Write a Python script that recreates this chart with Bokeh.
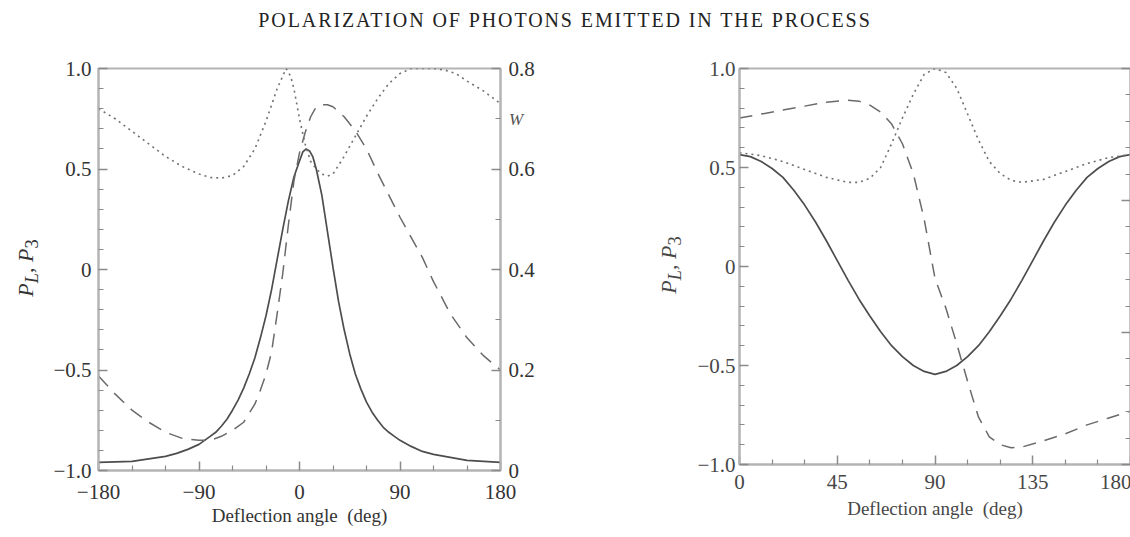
from bokeh.embed import file_html
from bokeh.layouts import column, row
from bokeh.models import Div, FixedTicker, LinearAxis, Range1d
from bokeh.plotting import figure
from bokeh.resources import INLINE

TITLE = "POLARIZATION OF PHOTONS EMITTED IN THE PROCESS"
X_LABEL = "Deflection angle\u00a0 (deg)"
Y_LABEL_HTML = "<i>P</i><sub><i>L</i></sub>, <i>P</i><sub>3</sub>"
W_LABEL_HTML = "<i>W</i>"

# ---- left panel: deflection angle -180 .. 180 ----
left_solid_angle = [-180, -150, -120, -110, -100, -90, -80, -75, -70, -65, -60, -55, -50, -45,
                    -40, -35, -30, -25, -20, -15, -10, -5, 0, 3, 6, 9, 12, 15, 20, 25, 30, 35,
                    40, 45, 50, 55, 60, 65, 70, 75, 80, 85, 90, 100, 110, 120, 150, 180]
left_solid = [-0.96, -0.955, -0.93, -0.915, -0.895, -0.87, -0.83, -0.81, -0.78, -0.745, -0.70,
              -0.65, -0.59, -0.52, -0.44, -0.34, -0.23, -0.10, 0.05, 0.20, 0.34, 0.46, 0.54,
              0.585, 0.60, 0.59, 0.56, 0.50, 0.37, 0.19, 0.01, -0.16, -0.30, -0.42, -0.52,
              -0.595, -0.66, -0.71, -0.75, -0.785, -0.81, -0.83, -0.85, -0.88, -0.905, -0.92,
              -0.95, -0.96]

left_dashed_angle = [-180, -165, -150, -135, -120, -105, -90, -80, -70, -60, -50, -40, -35, -30,
                     -25, -20, -15, -10, -5, 0, 5, 10, 15, 20, 25, 30, 40, 50, 60, 70, 80, 90,
                     100, 110, 120, 135, 150, 165, 180]
left_dashed = [-0.53, -0.62, -0.70, -0.76, -0.81, -0.84, -0.85, -0.85, -0.83, -0.80, -0.76,
               -0.67, -0.60, -0.52, -0.41, -0.22, -0.02, 0.22, 0.44, 0.58, 0.68, 0.76, 0.81,
               0.82, 0.82, 0.81, 0.76, 0.69, 0.60, 0.48, 0.37, 0.26, 0.16, 0.06, -0.06, -0.22,
               -0.34, -0.43, -0.50]

left_w_angle = [-180, -165, -150, -135, -120, -105, -90, -80, -70, -60, -50, -40, -30, -20,
                -15, -12, -8, -5, 0, 5, 10, 15, 20, 25, 30, 40, 50, 60, 70, 80, 90, 100, 110,
                120, 130, 140, 150, 165, 180]
left_w = [0.72, 0.70, 0.675, 0.65, 0.625, 0.605, 0.59, 0.583, 0.582, 0.587, 0.605, 0.64, 0.695,
          0.76, 0.785, 0.80, 0.785, 0.76, 0.70, 0.65, 0.615, 0.60, 0.59, 0.586, 0.59, 0.625,
          0.665, 0.705, 0.74, 0.77, 0.79, 0.80, 0.80, 0.80, 0.797, 0.79, 0.775, 0.755, 0.73]

# ---- right panel: deflection angle 0 .. 180 ----
right_solid_angle = [0, 5, 10, 15, 20, 25, 30, 35, 40, 45, 50, 55, 60, 65, 70, 75, 80, 85, 90,
                     95, 100, 105, 110, 115, 120, 125, 130, 135, 140, 145, 150, 155, 160, 165,
                     170, 175, 180]
right_solid = [0.565, 0.555, 0.53, 0.495, 0.45, 0.385, 0.31, 0.225, 0.13, 0.03, -0.07, -0.165,
               -0.25, -0.33, -0.40, -0.455, -0.50, -0.53, -0.545, -0.53, -0.50, -0.455, -0.40,
               -0.33, -0.25, -0.165, -0.07, 0.03, 0.13, 0.225, 0.31, 0.385, 0.45, 0.495, 0.53,
               0.555, 0.565]

right_dashed_angle = [0, 10, 20, 30, 40, 50, 55, 60, 65, 70, 75, 80, 85, 90, 95, 100, 105, 110,
                      115, 120, 125, 130, 140, 150, 160, 170, 180]
right_dashed = [0.75, 0.77, 0.79, 0.81, 0.83, 0.84, 0.835, 0.815, 0.78, 0.72, 0.62, 0.47, 0.24,
                -0.06, -0.21, -0.39, -0.58, -0.76, -0.86, -0.90, -0.915, -0.912, -0.88, -0.845,
                -0.80, -0.765, -0.73]

right_dotted_angle = [0, 10, 20, 30, 40, 50, 55, 60, 65, 70, 75, 80, 85, 90, 95, 100, 105, 110,
                      115, 120, 125, 130, 140, 150, 160, 170, 180]
right_dotted = [0.575, 0.56, 0.53, 0.49, 0.45, 0.425, 0.425, 0.445, 0.50, 0.62, 0.75, 0.87, 0.97,
                1.0, 0.98, 0.90, 0.77, 0.64, 0.53, 0.47, 0.435, 0.425, 0.44, 0.48, 0.52, 0.55,
                0.565]

# ---- axis ticks ----
left_x_ticks = [-180, -90, 0, 90, 180]
left_x_labels = ["\u2212180", "\u221290", "0", "90", "180"]
left_x_minor = [-150, -120, -60, -30, 30, 60, 120, 150]

right_x_ticks = [0, 45, 90, 135, 180]
right_x_labels = ["0", "45", "90", "135", "180"]
right_x_minor = [15, 30, 60, 75, 105, 120, 150, 165]

p_ticks = [-1.0, -0.5, 0.0, 0.5, 1.0]
p_labels = ["\u22121.0", "\u22120.5", "0", "0.5", "1.0"]
p_minor = [-0.9, -0.8, -0.7, -0.6, -0.4, -0.3, -0.2, -0.1, 0.1, 0.2, 0.3, 0.4, 0.6, 0.7, 0.8, 0.9]

w_ticks = [0.0, 0.2, 0.4, 0.6, 0.8]
w_labels = ["0", "0.2", "0.4", "0.6", "0.8"]
w_minor = [0.1, 0.3, 0.5, 0.7]

w2_ticks = [0.0, 0.1, 0.2, 0.3]
w2_minor = [0.02, 0.04, 0.06, 0.08, 0.12, 0.14, 0.16, 0.18, 0.22, 0.24, 0.26, 0.28]

SERIF = "Liberation Serif"
AXIS_COLOR = "#b4b4b4"
TICK_COLOR = "#8a8a8a"
TEXT_COLOR = "#333333"
TEXT_COLOR_R = "#474747"
SOLID_COLOR = "#4d4d4d"
DASH_COLOR = "#6a6a6a"
DOT_COLOR = "#707070"


def style_axis(ax, ticks, labels, minor, standoff, text_color=TEXT_COLOR, size="21px"):
    ax.ticker = FixedTicker(ticks=ticks, minor_ticks=minor)
    ax.major_label_overrides = dict(zip(ticks, labels))
    ax.axis_line_color = AXIS_COLOR
    ax.axis_line_width = 2
    ax.major_tick_in = 9
    ax.major_tick_out = 0
    ax.minor_tick_in = 5
    ax.minor_tick_out = 0
    ax.major_tick_line_color = TICK_COLOR
    ax.minor_tick_line_color = TICK_COLOR
    ax.major_tick_line_width = 1.5
    ax.minor_tick_line_width = 1.2
    ax.major_label_text_font = SERIF
    ax.major_label_text_font_size = size
    ax.major_label_text_color = text_color
    ax.major_label_standoff = standoff


def style_xlabel(ax, standoff, text_color=TEXT_COLOR):
    ax.axis_label = X_LABEL
    ax.axis_label_text_font = SERIF
    ax.axis_label_text_font_style = "normal"
    ax.axis_label_text_font_size = "19px"
    ax.axis_label_text_color = text_color
    ax.axis_label_standoff = standoff


def base_figure(x_range, fw, fh, left, right, top, bottom):
    p = figure(frame_width=fw, frame_height=fh, x_range=x_range, y_range=Range1d(-1, 1),
               output_backend="svg", toolbar_location=None,
               min_border_left=left, min_border_right=right,
               min_border_top=top, min_border_bottom=bottom)
    p.grid.visible = False
    p.outline_line_color = AXIS_COLOR
    p.outline_line_width = 2
    p.background_fill_color = "white"
    p.border_fill_color = "white"
    return p


def caption(cx, cy, color, size, html, rotate):
    turn = " rotate(-90deg)" if rotate else ""
    return ('<div style="position:absolute;left:%dpx;top:%dpx;z-index:5;'
            'transform:translate(-50%%,-50%%)%s;white-space:nowrap;'
            'font-family:\'Liberation Serif\';font-size:%s;line-height:1;color:%s;">'
            '%s</div>') % (cx, cy, turn, size, color, html)


def side_div(width, captions):
    # narrow column beside a panel holding its vertical "P_L, P_3" caption
    html = ('<div style="position:relative;width:%dpx;height:497px;">%s</div>'
            % (width, "".join(captions)))
    return Div(text=html, width=width, height=497, margin=(0, 0, 0, 0),
               styles={"overflow": "visible"})


# ---- left panel ----
p1 = base_figure(Range1d(-180, 180), 402, 402, 45, 113, 28, 67)
p1.extra_y_ranges = {"w": Range1d(0, 0.8)}
style_axis(p1.xaxis[0], left_x_ticks, left_x_labels, left_x_minor, 14)
style_xlabel(p1.xaxis[0], 3)
style_axis(p1.yaxis[0], p_ticks, p_labels, p_minor, 7)
w_axis = LinearAxis(y_range_name="w")
style_axis(w_axis, w_ticks, w_labels, w_minor, 8)
p1.add_layout(w_axis, "right")

p1.line(left_solid_angle, left_solid, line_color=SOLID_COLOR, line_width=1.7)
p1.line(left_dashed_angle, left_dashed, line_color=DASH_COLOR, line_width=1.5,
        line_dash="14 9")
p1.line(left_w_angle, left_w, y_range_name="w", line_color=DOT_COLOR, line_width=1.6,
        line_dash="2 4")

# ---- right panel ----
p2 = base_figure(Range1d(0, 180), 391, 396, 46, 1, 26, 72)
p2.extra_y_ranges = {"w": Range1d(0, 0.3)}
style_axis(p2.xaxis[0], right_x_ticks, right_x_labels, right_x_minor, 10, TEXT_COLOR_R)
style_xlabel(p2.xaxis[0], 6, TEXT_COLOR_R)
style_axis(p2.yaxis[0], p_ticks, p_labels, p_minor, 4, TEXT_COLOR_R)
r_axis = LinearAxis(y_range_name="w")
style_axis(r_axis, w2_ticks, ["", "", "", ""], w2_minor, 0)
r_axis.major_label_text_font_size = "0px"
p2.add_layout(r_axis, "right")

p2.line(right_solid_angle, right_solid, line_color=SOLID_COLOR, line_width=1.7)
p2.line(right_dashed_angle, right_dashed, line_color=DASH_COLOR, line_width=1.5,
        line_dash="13 9")
p2.line(right_dotted_angle, right_dotted, line_color=DOT_COLOR, line_width=1.6,
        line_dash="2 4")

title = Div(text=TITLE, width=1130, height=40, margin=(0, 0, 0, 0),
            styles={"font-family": SERIF, "font-size": "20px", "letter-spacing": "1.9px",
                    "color": "#222222", "line-height": "40px", "text-align": "center",
                    "white-space": "nowrap", "width": "1130px"})

left_side = side_div(50, [caption(28, 228, TEXT_COLOR, "22px", Y_LABEL_HTML, True)])
# the gap column also carries the italic W next to the weight axis of the left panel
mid_side = side_div(80, [caption(58, 225, TEXT_COLOR_R, "22px", Y_LABEL_HTML, True),
                         caption(-97, 79, "#555555", "17px", W_LABEL_HTML, False)])

layout = column(title, row(left_side, p1, mid_side, p2, spacing=0), spacing=0)
open("out.html", "w").write(file_html(layout, INLINE))
